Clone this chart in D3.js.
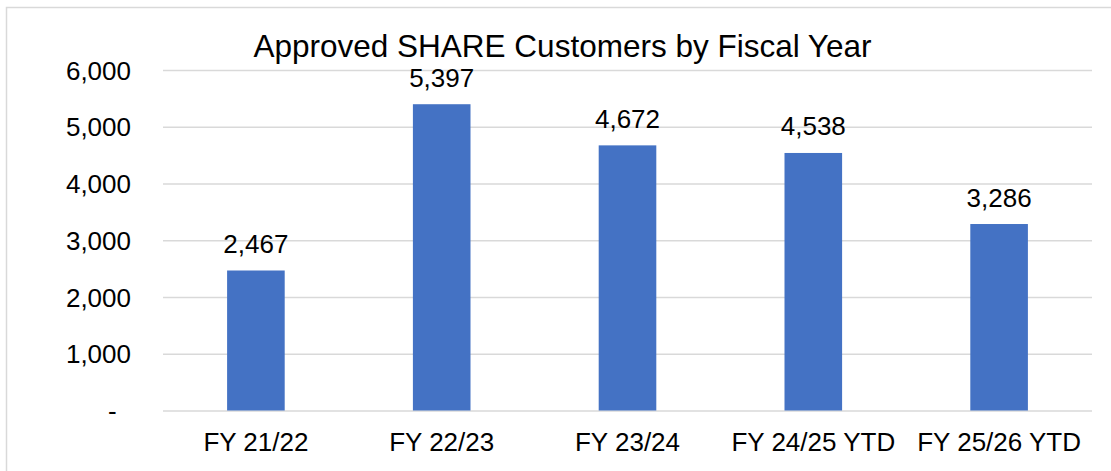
<!DOCTYPE html>
<html>
<head>
<meta charset="utf-8">
<script src="https://cdn.jsdelivr.net/npm/d3@7"></script>
<style>
	body { margin: 0; background: #fff; }
	svg text { font-family: "Liberation Sans", Arial, sans-serif; fill: #000; }
</style>
</head>
<body>
<div id="chart"></div>
<script>
var categories = ['FY 21/22', 'FY 22/23', 'FY 23/24', 'FY 24/25 YTD', 'FY 25/26 YTD'];
var customers = [2467, 5397, 4672, 4538, 3286];
var yTicks = [0, 1000, 2000, 3000, 4000, 5000, 6000];
var title = 'Approved SHARE Customers by Fiscal Year';

var w = 1111, h = 471;
var margin = {top: 70, right: 19, bottom: 60.5, left: 163};

var svg = d3.select('#chart')
	.append('svg')
		.attr('width', w)
		.attr('height', h);

// chart border
svg.append('rect')
	.attr('x', 6.5)
	.attr('y', 7.5)
	.attr('width', 1118)
	.attr('height', 480)
	.attr('fill', 'none')
	.attr('stroke', '#d9d9d9')
	.attr('stroke-width', 1.5);

var x = d3.scaleBand()
	.domain(categories)
	.range([margin.left, w - margin.right])
	.paddingInner(0.69)
	.paddingOuter(0.345);

var y = d3.scaleLinear()
	.domain([0, 6000])
	.range([h - margin.bottom, margin.top]);

var fmt = d3.format(',');

var yAxis = d3.axisLeft(y)
	.tickValues(yTicks)
	.tickSize(-(w - margin.right - margin.left))
	.tickPadding(32)
	.tickFormat(function (d) { return d === 0 ? '-\u00A0\u00A0' : fmt(d); });

var gy = svg.append('g')
	.attr('class', 'y axis')
	.attr('transform', 'translate(' + margin.left + ',0)')
	.call(yAxis);
gy.select('.domain').remove();
gy.selectAll('line').attr('stroke', '#d9d9d9').attr('stroke-width', 1.5);
gy.selectAll('text').style('font-size', '26px').attr('dy', '0.35em');

var xAxis = d3.axisBottom(x).tickSize(0).tickPadding(22);
var gx = svg.append('g')
	.attr('class', 'x axis')
	.attr('transform', 'translate(0,' + y(0) + ')')
	.call(xAxis);
gx.select('.domain').remove();
gx.selectAll('text').style('font-size', '26px').attr('dy', '0.71em');

svg.selectAll('rect.bar')
	.data(customers)
	.enter()
	.append('rect')
		.attr('class', 'bar')
		.attr('x', function (d, i) { return x(categories[i]); })
		.attr('y', function (d) { return y(d); })
		.attr('width', x.bandwidth())
		.attr('height', function (d) { return y(0) - y(d); })
		.attr('fill', '#4472c4');

svg.selectAll('text.value')
	.data(customers)
	.enter()
	.append('text')
		.attr('class', 'value')
		.attr('x', function (d, i) { return x(categories[i]) + x.bandwidth() / 2; })
		.attr('y', function (d) { return y(d) - 17.5; })
		.attr('text-anchor', 'middle')
		.style('font-size', '26px')
		.text(function (d) { return fmt(d); });

svg.append('text')
	.attr('x', 562.5)
	.attr('y', 57)
	.attr('text-anchor', 'middle')
	.style('font-size', '31.5px')
	.text(title);
</script>
</body>
</html>
